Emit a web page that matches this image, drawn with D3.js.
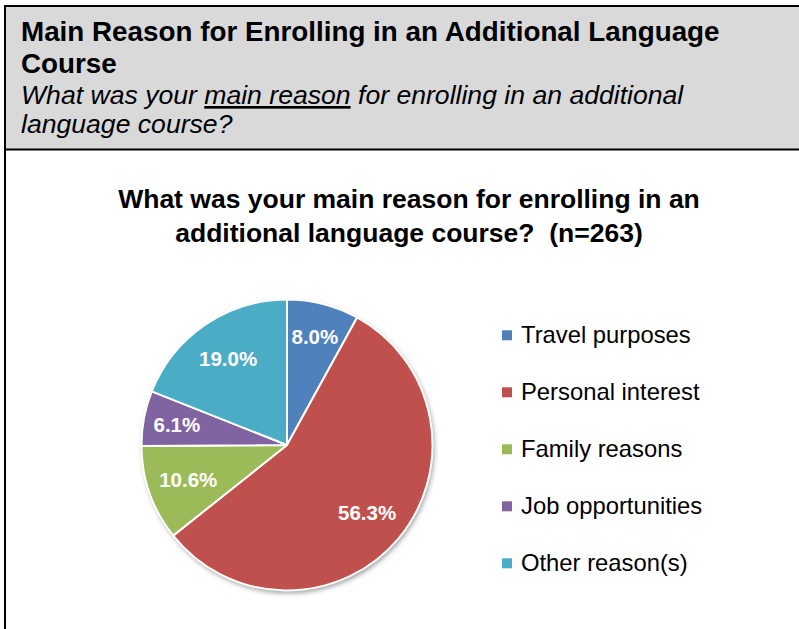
<!DOCTYPE html>
<html>
<head>
<meta charset="utf-8">
<script src="https://cdn.jsdelivr.net/npm/d3@7"></script>
<style>
  html, body { margin: 0; padding: 0; background: #fff; }
  svg { display: block; font-family: "Liberation Sans", Arial, sans-serif; }
</style>
</head>
<body>
<svg id="chart" width="799" height="629"></svg>
<script>
// ---- data ----
const categories = ["Travel purposes", "Personal interest", "Family reasons", "Job opportunities", "Other reason(s)"];
const values = [8.0, 56.3, 10.6, 6.1, 19.0];
const colors = ["#4f81bd", "#c0504d", "#9bbb59", "#8064a2", "#4bacc6"];
const headerTitle = ["Main Reason for Enrolling in an Additional Language", "Course"];
const chartTitle = ["What was your main reason for enrolling in an", "additional language course?  (n=263)"];

const svg = d3.select("#chart");
const W = 799, H = 629;

// defs: shadow
const defs = svg.append("defs");
const f = defs.append("filter").attr("id", "shadow").attr("x", "-20%").attr("y", "-20%").attr("width", "140%").attr("height", "140%");
f.append("feDropShadow").attr("dx", 1.5).attr("dy", 2.5).attr("stdDeviation", 2.5).attr("flood-color", "#000").attr("flood-opacity", 0.4);

// header box
svg.append("rect").attr("x", 5).attr("y", 6).attr("width", W + 10).attr("height", 143.5)
  .attr("fill", "#d9d9d9").attr("stroke", "#000").attr("stroke-width", 2);
svg.append("line").attr("x1", 5).attr("x2", 5).attr("y1", 149).attr("y2", H + 2)
  .attr("stroke", "#000").attr("stroke-width", 2);

svg.append("text").attr("x", 21).attr("y", 41)
  .attr("font-size", 27.8).attr("font-weight", "bold").attr("fill", "#000")
  .text(headerTitle[0]);
svg.append("text").attr("x", 21).attr("y", 72.5)
  .attr("font-size", 27.8).attr("font-weight", "bold").attr("fill", "#000")
  .text(headerTitle[1]);

const sub1 = svg.append("text").attr("x", 21).attr("y", 104)
  .attr("font-size", 26.6).attr("font-style", "italic").attr("fill", "#000");
sub1.append("tspan").text("What was your ");
sub1.append("tspan").attr("text-decoration", "underline").text("main reason");
sub1.append("tspan").text(" for enrolling in an additional");
svg.append("text").attr("x", 21).attr("y", 132.5)
  .attr("font-size", 26.6).attr("font-style", "italic").attr("fill", "#000")
  .text("language course?");

// chart title
svg.selectAll("text.ctitle").data(chartTitle).join("text")
  .attr("class", "ctitle")
  .attr("x", 409).attr("y", (d, i) => 207.5 + i * 34)
  .attr("text-anchor", "middle").attr("font-size", 26.5).attr("font-weight", "bold")
  .attr("fill", "#000")
  .style("white-space", "pre")
  .text(d => d);

// pie
const cx = 287, cy = 445, R = 145.5;
const total = d3.sum(values);
const pie = d3.pie().sort(null).value(d => d)(values);
const arc = d3.arc().innerRadius(0).outerRadius(R);
const g = svg.append("g").attr("transform", `translate(${cx},${cy})`);
g.append("g").attr("filter", "url(#shadow)")
  .selectAll("path").data(pie).join("path")
  .attr("d", arc).attr("fill", (d, i) => colors[i]);
g.selectAll("path.edge").data(pie).join("path")
  .attr("class", "edge")
  .attr("d", arc).attr("fill", (d, i) => colors[i])
  .attr("stroke", "#fff").attr("stroke-width", 2).attr("stroke-linejoin", "round");

g.selectAll("text.lbl").data(pie).join("text")
  .attr("class", "lbl")
  .attr("transform", d => {
    const frac = d.value / total;
    const r = R * (frac < 0.09 ? 0.77 : 0.72);
    const a = (d.startAngle + d.endAngle) / 2;
    return `translate(${r * Math.sin(a)},${-r * Math.cos(a)})`;
  })
  .attr("text-anchor", "middle").attr("dy", "0.36em")
  .attr("font-size", 20.5).attr("font-weight", "bold").attr("fill", "#fff")
  .text(d => d3.format(".1f")(d.value) + "%");

// legend
const lg = svg.append("g");
const items = lg.selectAll("g").data(categories).join("g")
  .attr("transform", (d, i) => `translate(502,${343.3 + i * 57})`);
items.append("rect").attr("x", 0).attr("y", -13).attr("width", 10).attr("height", 10)
  .attr("fill", (d, i) => colors[i]);
items.append("text").attr("x", 19).attr("y", 0)
  .attr("font-size", 23.8).attr("fill", "#000").text(d => d);
</script>
</body>
</html>
